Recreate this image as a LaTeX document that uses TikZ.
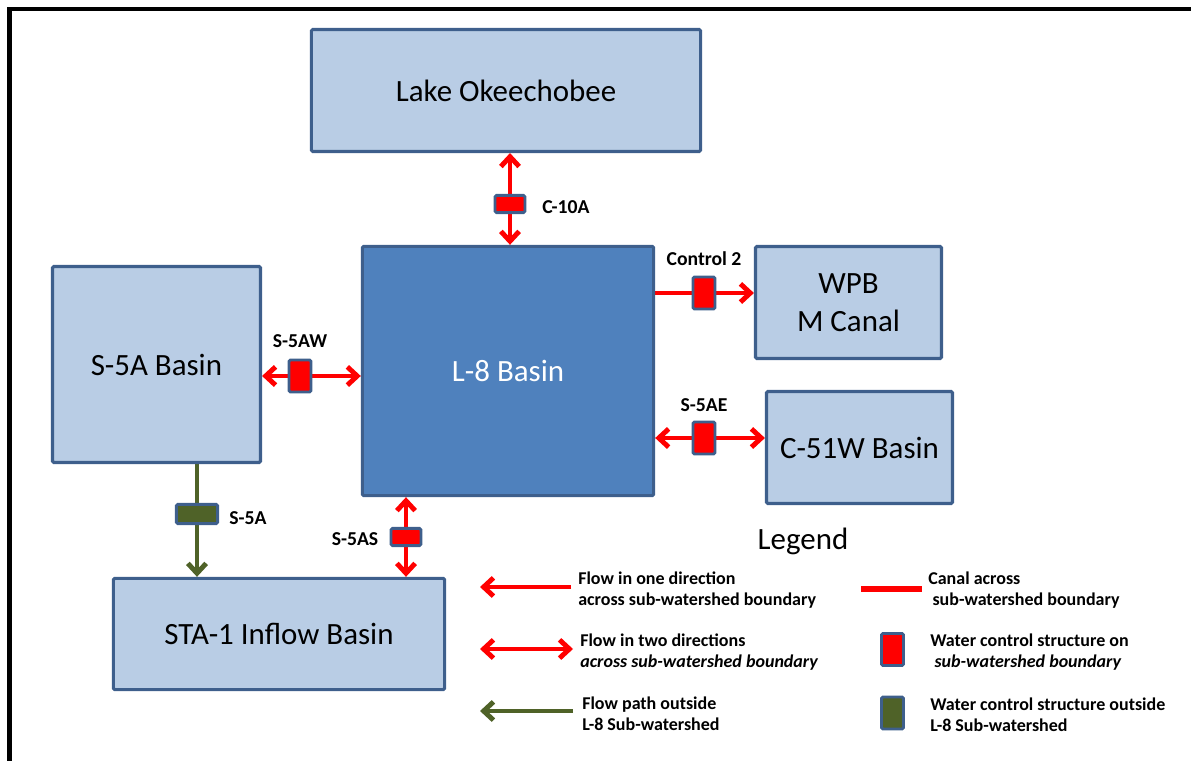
\documentclass[tikz,border=0pt]{standalone}
\usepackage{fontspec}
\setmainfont{Carlito}
\usetikzlibrary{arrows.meta,backgrounds}

\definecolor{basinfill}{HTML}{B9CDE5}
\definecolor{basinedge}{HTML}{3E5F8C}
\definecolor{mainfill}{HTML}{4F81BD}
\definecolor{pathgreen}{HTML}{4F6228}

\begin{document}
\begin{tikzpicture}[
  x=0.025cm, y=-0.025cm,
  basin/.style={draw=basinedge, fill=basinfill, line width=2.2pt, rounded corners=1pt,
    align=center, font=\fontsize{22}{27}\selectfont},
  gate/.style={draw=basinedge, fill=red, line width=2pt, rounded corners=1pt, inner sep=0pt},
  hgate/.style={gate, minimum width=0.75cm, minimum height=0.43cm},
  vgate/.style={gate, minimum width=0.55cm, minimum height=0.8cm},
  tag/.style={font=\fontsize{14}{16}\selectfont\bfseries},
  key/.style={anchor=west, align=left, inner sep=0pt, font=\fontsize{12.8}{15}\selectfont\bfseries},
  flow/.style={draw=red, line width=3.5pt},
  outflow/.style={draw=pathgreen, line width=3.5pt},
  >={Straight Barb[length=7pt,width=13pt]}
]
  \useasboundingbox (0,0) rectangle (1191,761);
  % page frame
  \draw[line width=3pt] (9.5,761) -- (9.5,9) -- (1191,9);

  % basins
  \node[basin, minimum width=9.73cm, minimum height=3.05cm] (lake) at (506,90.5) {Lake Okeechobee};
  \node[basin, fill=mainfill, text=white, minimum width=7.28cm, minimum height=6.23cm] (l8) at (508,371) {L-8 Basin};
  \node[basin, minimum width=5.2cm, minimum height=4.9cm] (s5abasin) at (156.5,364.5) {S-5A Basin};
  \node[basin, minimum width=4.65cm, minimum height=2.8cm] (wpb) at (848.5,302.5) {WPB\\M Canal};
  \node[basin, minimum width=4.65cm, minimum height=2.8cm] (c51w) at (859.5,447.5) {C-51W Basin};
  \node[basin, minimum width=8.28cm, minimum height=2.78cm] (sta1) at (279,634) {STA-1 Inflow Basin};

  % control structures
  \node[hgate] (c10a) at (510,204) {};
  \node[vgate] (ctl2) at (704,293) {};
  \node[vgate] (s5ae) at (704,438) {};
  \node[vgate] (s5aw) at (300,376) {};
  \node[hgate] (s5as) at (406,537) {};
  \node[hgate, fill=pathgreen, minimum width=1.03cm, minimum height=0.48cm] (s5a) at (197,514) {};

  \node[tag] (c10a-l) at (566,207) {C-10A};
  \node[tag] (ctl2-l) at (704,259) {Control 2};
  \node[tag] (s5ae-l) at (704,405) {S-5AE};
  \node[tag] (s5aw-l) at (300,341) {S-5AW};
  \node[tag] (s5as-l) at (355,539) {S-5AS};
  \node[tag] (s5a-l)  at (248,518) {S-5A};

  \begin{scope}[on background layer]
    \draw[flow, <->] (lake.south -| c10a) -- (l8.north -| c10a);
    \draw[flow, ->] (l8.east |- ctl2) -- (wpb.west |- ctl2);
    \draw[flow, <->] (l8.east |- s5ae) -- (c51w.west |- s5ae);
    \draw[flow, <->] (s5abasin.east |- s5aw) -- (l8.west |- s5aw);
    \draw[flow, <->] (l8.south -| s5as) -- (sta1.north -| s5as);
    \draw[outflow, ->] (s5abasin.south -| s5a) -- (sta1.north -| s5a);
  \end{scope}

  % legend
  \node[font=\fontsize{22}{26}\selectfont] (legend) at (803,541) {Legend};

  \coordinate (k1a) at (480,587); \coordinate (k1b) at (571,587);
  \coordinate (k2a) at (480,649); \coordinate (k2b) at (573,649);
  \coordinate (k3a) at (480,711); \coordinate (k3b) at (573,711);
  \coordinate (k4a) at (861,589); \coordinate (k4b) at (922,589);
  \draw[flow, ->] (k1b) -- (k1a);
  \draw[flow, <->] (k2a) -- (k2b);
  \draw[outflow, ->] (k3b) -- (k3a);
  \draw[draw=red, line width=4.2pt] (k4a) -- (k4b);
  \node[vgate] (k5) at (892.5,649.5) {};
  \node[vgate, fill=pathgreen] (k6) at (892.5,713) {};

  \node[key] (k1t) at (578,590.5) {Flow in one direction\\across sub-watershed boundary};
  \node[key] (k2t) at (580,652) {Flow in two directions\\\textit{across sub-watershed boundary}};
  \node[key] (k3t) at (582,714) {Flow path outside\\L-8 Sub-watershed};
  \node[key] (k4t) at (928,590) {Canal across\\\hspace{3pt}sub-watershed boundary};
  \node[key] (k5t) at (930,652) {Water control structure on\\\hspace{3pt}\textit{sub-watershed boundary}};
  \node[key] (k6t) at (930,714.5) {Water control structure outside\\L-8 Sub-watershed};
\end{tikzpicture}
\end{document}
